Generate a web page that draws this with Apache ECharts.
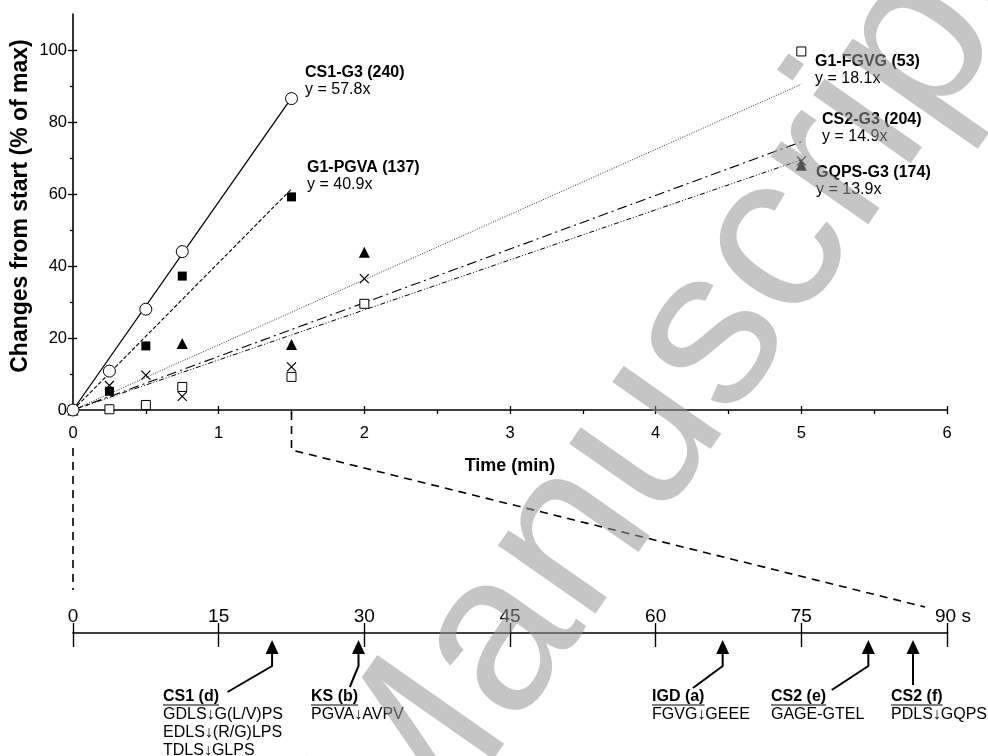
<!DOCTYPE html>
<html><head><meta charset="utf-8">
<script src="https://cdn.jsdelivr.net/npm/echarts@6/dist/echarts.min.js"></script>
<style>html,body{margin:0;padding:0;background:#fff}#c{width:988px;height:756px}</style>
</head><body><div id="c"></div>
<script>
// ---------- data ----------
const seriesNames = ['CS1-G3 (240)', 'G1-PGVA (137)', 'G1-FGVG (53)', 'CS2-G3 (204)', 'GQPS-G3 (174)'];
const fitEquations = ['y = 57.8x', 'y = 40.9x', 'y = 18.1x', 'y = 14.9x', 'y = 13.9x'];
const cs1G3 = [[0,0],[0.25,10.8],[0.5,28.0],[0.75,44.0],[1.5,86.5]];
const g1PGVA = [[0,0],[0.25,5.2],[0.5,17.8],[0.75,37.2],[1.5,59.2]];
const g1FGVG = [[0,0],[0.25,0.2],[0.5,1.4],[0.75,6.4],[1.5,9.2],[2,29.5],[5,99.6]];
const cs2G3 = [[0,0],[0.75,18.5],[1.5,18.2],[2,43.8],[5,68.0]];
const gqpsG3 = [[0,0],[0.25,6.8],[0.5,9.7],[0.75,3.8],[1.5,12.0],[2,36.5],[5,69.2]];
const cs1G3Fit = [[0,0],[1.5,86.7]];
const g1PGVAFit = [[0,0],[1.5,61.4]];
const g1FGVGFit = [[0,0],[5,90.5]];
const cs2G3Fit = [[0,0],[5,74.5]];
const gqpsG3Fit = [[0,0],[5,69.5]];
const yTicks = [0,20,40,60,80,100];
const yMinorTicks = [10,30,50,70,90];
const annotTimes = [20.5, 29.4, 66.9, 81.9, 86.5];
const annotTitles = ['CS1 (d)', 'KS (b)', 'IGD (a)', 'CS2 (e)', 'CS2 (f)'];
const annotSites = [['GDLS\u2193G(L/V)PS','EDLS\u2193(R/G)LPS','TDLS\u2193GLPS'], ['PGVA\u2193AVPV'], ['FGVG\u2193GEEE'], ['GAGE-GTEL'], ['PDLS\u2193GQPS']];

// ---------- layout ----------
const FF = '"Liberation Sans", Arial, Helvetica, sans-serif';
const arrowTail = [[-44.5,59],[-8.7,54],[-29.7,55],[-36.6,57],[0,52]];
const annotLabelX = [163, 311, 652, 771, 891];
const seriesLabelPos = [[305,73],[307,168],[815,62],[822,120],[816,173]];

const chart = echarts.init(document.getElementById('c'), null, {renderer:'canvas'});
const axisLineStyle = {color:'#000', width:1.6};
const lbl = {color:'#000', fontFamily:FF, fontSize:16.5};

function lineSeries(data, type, width, color){
  return {type:'line', data:data, symbol:'none', silent:true, xAxisIndex:0, yAxisIndex:0,
    lineStyle:{color:color||'#000', width:width, type:type}, z:2};
}
function scat(data, symbol, size, fill, stroke, bw){
  return {type:'scatter', data:data, symbol:symbol, symbolSize:size, xAxisIndex:0, yAxisIndex:0,
    itemStyle:{color:fill, borderColor:stroke, borderWidth:bw, opacity:1}, z:5};
}

const measure = (function(){const c=document.createElement('canvas').getContext('2d');return (t,f)=>{c.font=f;return c.measureText(t).width;};})();

const option = {
  animation:false,
  backgroundColor:'#fff',
  grid:[
    {left:73, right:41, top:14, bottom:346},
    {left:73, right:41, top:632, bottom:123}
  ],
  xAxis:[
    {gridIndex:0, type:'value', min:0, max:6, interval:1, position:'bottom',
      axisLine:{lineStyle:axisLineStyle}, splitLine:{show:false},
      axisTick:{length:4, lineStyle:{color:'#000', width:1.3}},
      minorTick:{show:true, splitNumber:2, length:4, lineStyle:{color:'#000', width:1.3}},
      axisLabel:Object.assign({margin:15}, lbl)},
    {gridIndex:0, type:'value', min:0, max:6, interval:1, position:'bottom',
      axisLine:{show:false}, splitLine:{show:false},
      axisTick:{inside:true, length:4, lineStyle:{color:'#000', width:1.3}}, axisLabel:{show:false}},
    {gridIndex:1, type:'value', position:'top', min:0, max:90, interval:15,
      axisLine:{lineStyle:axisLineStyle}, splitLine:{show:false},
      axisTick:{length:10, lineStyle:{color:'#000', width:1.4}},
      axisLabel:{color:'#000', fontFamily:FF, fontSize:19, margin:6,
        formatter:v=> v===90 ? '{pad|}90 s' : String(v), rich:{pad:{width:12}}}},
    {gridIndex:1, type:'value', position:'top', min:0, max:90, interval:15,
      axisLine:{show:false}, splitLine:{show:false},
      axisTick:{inside:true, length:15, lineStyle:{color:'#000', width:1.4}}, axisLabel:{show:false}}
  ],
  yAxis:[
    {gridIndex:0, type:'value', min:0, max:110, position:'left',
      axisLine:{show:true, lineStyle:axisLineStyle}, splitLine:{show:false},
      axisTick:{show:true, length:5, customValues:yTicks, lineStyle:{color:'#000', width:1.3}},
      axisLabel:Object.assign({margin:6, customValues:yTicks}, lbl)},
    {gridIndex:0, type:'value', min:0, max:110, position:'left', offset:0,
      axisLine:{show:false}, splitLine:{show:false},
      axisTick:{show:true, inside:true, length:4, customValues:yTicks, lineStyle:{color:'#000', width:1.3}},
      axisLabel:{show:false}},
    {gridIndex:0, type:'value', min:0, max:110, position:'left', offset:0,
      axisLine:{show:false}, splitLine:{show:false},
      axisTick:{show:true, length:3, customValues:yMinorTicks, lineStyle:{color:'#000', width:1.3}},
      axisLabel:{show:false}},
    {gridIndex:1, type:'value', min:0, max:1, show:false}
  ],
  series:[
    lineSeries(cs1G3Fit, 'solid', 1.3),
    lineSeries(g1PGVAFit, [4,2], 1.1),
    lineSeries(g1FGVGFit, [1,1.5], 1, '#333'),
    lineSeries(cs2G3Fit, [10,4,2,4], 1.1),
    lineSeries(gqpsG3Fit, [5,2,1,2,1,2], 1),
    scat(g1FGVG, 'rect', 9, '#fff', '#000', 1),
    scat(cs2G3, 'triangle', 11, '#000', '#000', 0),
    scat(gqpsG3, 'path://M0,0L10,10M10,0L0,10', 9, 'none', '#000', 1.2),
    scat(g1PGVA, 'rect', 9, '#000', '#000', 0),
    scat(cs1G3, 'circle', 12, '#fff', '#000', 1),
    {type:'custom', xAxisIndex:2, yAxisIndex:3, data:annotTimes.map(t=>[t]), silent:true, z:6,
      renderItem:function(params, api){
        const i = params.dataIndex;
        const p = api.coord([api.value(0), 0]);
        const x = p[0], y0 = p[1];
        const t = arrowTail[i];
        const pts = t[0]===0 ? [[x,y0+19],[x,y0+t[1]]] : [[x,y0+19],[x,y0+33],[x+t[0],y0+t[1]]];
        return {type:'group', children:[
          {type:'polygon', shape:{points:[[x,y0+7],[x-6.5,y0+21],[x+6.5,y0+21]]}, style:{fill:'#000'}},
          {type:'polyline', shape:{points:pts}, style:{stroke:'#000', lineWidth:2, fill:null}}
        ]};
      }}
  ]
};
chart.setOption(option);

// ---------- overlay texts and connectors ----------
const g = [];
g.push({type:'text', x:21, y:206, rotation:Math.PI/2, style:{text:'Changes from start (% of max)', font:'bold 23px '+FF, fill:'#000', align:'center', verticalAlign:'middle'}});
g.push({type:'text', x:510, y:466, style:{text:'Time (min)', font:'bold 18px '+FF, fill:'#000', align:'center', verticalAlign:'middle'}});
seriesNames.forEach((n,i)=>{
  const p = seriesLabelPos[i];
  g.push({type:'text', x:p[0], y:p[1], style:{text:n, font:'bold 16px '+FF, fill:'#000', align:'left', verticalAlign:'middle'}});
  g.push({type:'text', x:p[0], y:p[1]+17, style:{text:fitEquations[i], font:'16px '+FF, fill:'#000', align:'left', verticalAlign:'middle'}});
});
annotTitles.forEach((t,i)=>{
  const x = annotLabelX[i];
  g.push({type:'text', x:x, y:697, style:{text:t, font:'bold 16px '+FF, fill:'#000', align:'left', verticalAlign:'middle'}});
  const w = measure(t, 'bold 16px '+FF);
  g.push({type:'line', shape:{x1:x, y1:705, x2:x+w, y2:705}, style:{stroke:'#000', lineWidth:1}});
  annotSites[i].forEach((s,k)=>{
    g.push({type:'text', x:x, y:715+18*k, style:{text:s, font:'16px '+FF, fill:'#000', align:'left', verticalAlign:'middle'}});
  });
});
const p0 = chart.convertToPixel({xAxisIndex:0, yAxisIndex:0}, [0,0]);
const p15 = chart.convertToPixel({xAxisIndex:0, yAxisIndex:0}, [1.5,0]);
const t90 = chart.convertToPixel({xAxisIndex:2, yAxisIndex:3}, [90,0]);
g.push({type:'line', shape:{x1:p0[0], y1:p0[1]+38, x2:p0[0], y2:590}, style:{stroke:'#000', lineWidth:1.6, lineDash:[8,6]}});
g.push({type:'polyline', shape:{points:[[p15[0], p15[1]+2],[p15[0], p15[1]+40],[t90[0]-22, 607]]}, style:{stroke:'#000', lineWidth:1.6, lineDash:[8,6], fill:null}});
// watermark
g.push({type:'text', x:672, y:396, rotation:55*Math.PI/180, z:100, style:{text:'Manuscript', font:'225px '+FF, fill:'rgba(150,150,150,0.55)', align:'center', verticalAlign:'middle'}});
chart.setOption({graphic:g});
</script></body></html>
